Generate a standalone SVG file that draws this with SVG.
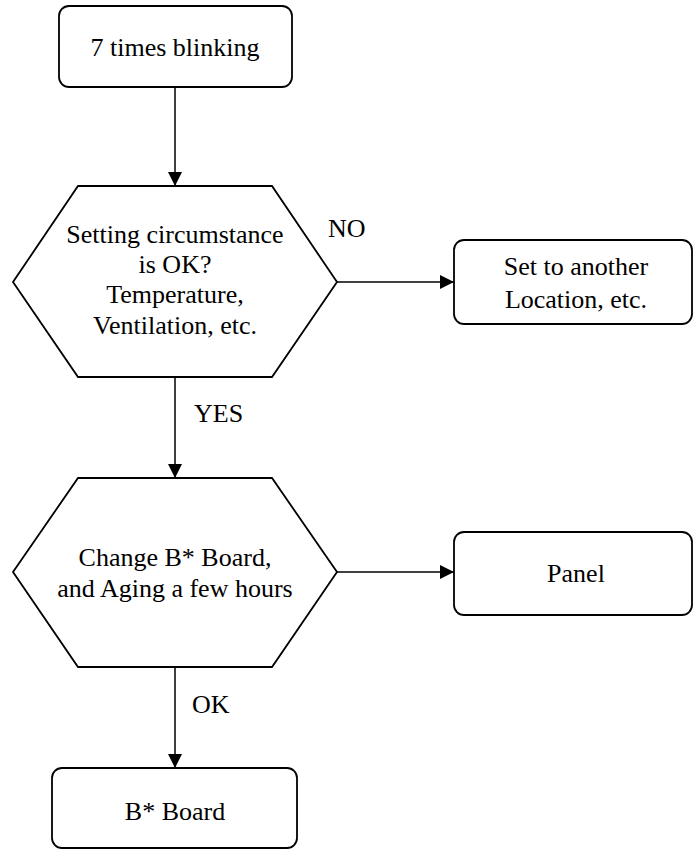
<svg xmlns="http://www.w3.org/2000/svg" width="693" height="849" viewBox="0 0 693 849">
<defs>
<style>
.n{fill:#fff;stroke:#000;stroke-width:1.8}
.c{fill:none;stroke:#000;stroke-width:1.5}
</style>
<marker id="a" markerWidth="14" markerHeight="14" refX="14" refY="7" orient="auto" markerUnits="userSpaceOnUse">
<path d="M0,0 L14,7 L0,14 Z" fill="#000"/>
</marker>
</defs>
<rect width="693" height="849" fill="#fff"/>
<g font-family="Liberation Serif, Times New Roman, serif" font-size="26" fill="#000">
<g id="connectors">
<line class="c" x1="175" y1="87" x2="175" y2="186" marker-end="url(#a)"/>
<line class="c" x1="337" y1="282" x2="454" y2="282" marker-end="url(#a)"/>
<line class="c" x1="175" y1="377" x2="175" y2="478" marker-end="url(#a)"/>
<line class="c" x1="337" y1="572" x2="454" y2="572" marker-end="url(#a)"/>
<line class="c" x1="175" y1="667" x2="175" y2="768" marker-end="url(#a)"/>
<text x="328" y="237">NO</text>
<text x="194" y="422">YES</text>
<text x="192" y="713">OK</text>
</g>
<g id="start" text-anchor="middle">
<rect class="n" x="59" y="6" width="233" height="81" rx="10"/>
<text x="175" y="56">7 times blinking</text>
</g>
<g id="check" text-anchor="middle">
<polygon class="n" points="78,186 272,186 337,282 272,377 78,377 13,282"/>
<text x="175" y="243">Setting circumstance</text>
<text x="175" y="273">is OK?</text>
<text x="175" y="303">Temperature,</text>
<text x="175" y="334">Ventilation, etc.</text>
</g>
<g id="relocate" text-anchor="middle">
<rect class="n" x="454" y="240" width="238" height="84" rx="10"/>
<text x="576" y="275">Set to another</text>
<text x="576" y="308">Location, etc.</text>
</g>
<g id="change" text-anchor="middle">
<polygon class="n" points="78,478 272,478 337,572 272,667 78,667 13,572"/>
<text x="175" y="566">Change B* Board,</text>
<text x="175" y="597">and Aging a few hours</text>
</g>
<g id="panel" text-anchor="middle">
<rect class="n" x="454" y="532" width="238" height="83" rx="10"/>
<text x="576" y="582">Panel</text>
</g>
<g id="board" text-anchor="middle">
<rect class="n" x="52" y="768" width="245" height="80" rx="10"/>
<text x="175" y="820">B* Board</text>
</g>
</g>
</svg>
